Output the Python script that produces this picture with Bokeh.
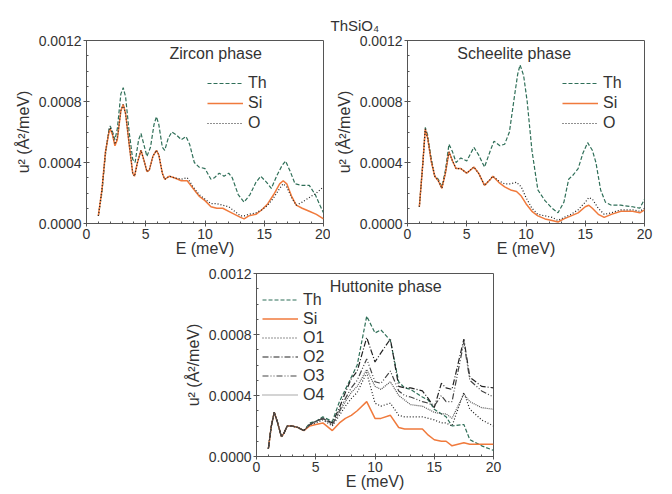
from bokeh.plotting import figure
from bokeh.layouts import column, row
from bokeh.models import (Range1d, FixedTicker, NumeralTickFormatter, Legend, LegendItem, Label, Title)
from bokeh.embed import file_html
from bokeh.resources import INLINE

# ---------------- data ----------------
title_text = "ThSiO\u2084"
x_label = "E (meV)"
y_label = "u\u00b2 (\u00c5\u00b2/meV)"
x_ticks = [0, 5, 10, 15, 20]
y_ticks = [0.0, 0.0004, 0.0008, 0.0012]

# Zircon phase
zircon_Th_E = [1, 1.3, 1.6, 1.9, 2.0, 2.2, 2.4, 2.6, 2.9, 3.1, 3.3, 3.6, 3.9, 4.1, 4.4, 4.6, 4.8, 5.1, 5.4, 5.7,
               5.9, 6.1, 6.4, 6.6, 6.9, 7.2, 7.6, 8.0, 8.4, 8.7, 9.1, 9.5, 10, 10.5, 10.8, 11.2, 11.6, 12, 12.3,
               12.8, 13.3, 13.8, 14.3, 14.7, 15.2, 15.6, 16.1, 16.5, 16.8, 17.2, 17.6, 18.2, 18.8, 19.3, 19.7, 20]
zircon_Th = [0.00005, 0.0002, 0.00045, 0.00062, 0.00064, 0.0006, 0.00055, 0.00062, 0.00085, 0.00089, 0.00083,
             0.0006, 0.00042, 0.0004, 0.00055, 0.00059, 0.00053, 0.00044, 0.0005, 0.00065, 0.0007, 0.00065,
             0.0005, 0.00048, 0.00056, 0.0006, 0.00058, 0.00055, 0.00057, 0.00052, 0.0004, 0.00037, 0.00036,
             0.00029, 0.0003, 0.00033, 0.00031, 0.00033, 0.0003, 0.00019, 0.00014, 0.00019, 0.00027, 0.00031,
             0.00027, 0.00023, 0.00032, 0.00038, 0.00041, 0.00034, 0.00026, 0.00025, 0.00025, 0.00019, 0.00012,
             0.00007]
zircon_E = [1, 1.3, 1.6, 1.9, 2.0, 2.2, 2.4, 2.6, 2.9, 3.1, 3.3, 3.6, 3.9, 4.05, 4.3, 4.6, 4.9, 5.1, 5.3, 5.6,
            5.9, 6.1, 6.4, 6.6, 7, 7.4, 8, 8.5, 9, 9.5, 10, 10.5, 11, 11.5, 12, 12.5, 13, 13.3, 13.7, 14.3,
            14.8, 15.3, 15.8, 16.3, 16.6, 16.9, 17.3, 17.7, 18.2, 18.8, 19.4, 20]
zircon_Si = [0.00005, 0.00022, 0.00047, 0.0006, 0.00062, 0.00058, 0.00051, 0.00055, 0.00074, 0.00078, 0.00072,
             0.00052, 0.00033, 0.00031, 0.0004, 0.00048, 0.0004, 0.00034, 0.00035, 0.00044, 0.00048, 0.00045,
             0.00033, 0.00029, 0.00031, 0.0003, 0.00028, 0.00028, 0.00023, 0.00018, 0.00015, 0.00011, 0.0001,
             0.0001, 0.00008, 0.00006, 0.00004, 0.00003, 0.00005, 0.00006, 0.00009, 0.00013, 0.00019, 0.00026,
             0.00028, 0.00026, 0.00018, 0.00012, 0.0001, 0.00008, 0.00006, 0.00003]
zircon_O = [0.00005, 0.00022, 0.00047, 0.00061, 0.00063, 0.00059, 0.00052, 0.00056, 0.00074, 0.00078, 0.00072,
            0.00052, 0.00033, 0.00031, 0.0004, 0.00048, 0.0004, 0.00034, 0.00035, 0.00044, 0.00048, 0.00045,
            0.00033, 0.00029, 0.00031, 0.0003, 0.00029, 0.0003, 0.00024, 0.00019, 0.00016, 0.00013, 0.00013,
            0.00012, 0.00011, 0.00008, 0.00005, 0.00005, 0.00006, 0.00007, 0.00009, 0.00012, 0.00017, 0.00023,
            0.00026, 0.00024, 0.00017, 0.00012, 0.00014, 0.00017, 0.0002, 0.00024]

# Scheelite phase
scheel_Th_E = [1, 1.3, 1.5, 1.7, 2, 2.3, 2.6, 2.9, 3.2, 3.5, 3.8, 4.1, 4.5, 5, 5.6, 6, 6.5, 7, 7.3, 7.8, 8.2,
               8.6, 9, 9.3, 9.5, 9.8, 10.1, 10.5, 11, 11.6, 12.2, 12.7, 13.2, 13.6, 14, 14.4, 14.8, 15.2, 15.6,
               15.9, 16.3, 16.7, 17.2, 18, 19, 19.6, 20]
scheel_Th = [0.00011, 0.0004, 0.00063, 0.00058, 0.00043, 0.00031, 0.00029, 0.00024, 0.00035, 0.00052, 0.00047,
             0.0004, 0.00043, 0.00041, 0.0005, 0.00045, 0.00037, 0.00048, 0.00054, 0.00051, 0.00052, 0.0006,
             0.00082, 0.00098, 0.00104, 0.00097, 0.0008, 0.00048, 0.00022, 0.00015, 0.0001, 0.00007, 0.00014,
             0.00029, 0.00032, 0.00036, 0.00046, 0.00053, 0.00048, 0.0004, 0.00022, 0.00014, 0.00012, 0.00012,
             0.00011, 0.0001, 0.00016]
scheel_E = [1, 1.3, 1.5, 1.7, 2, 2.3, 2.6, 2.9, 3.2, 3.5, 3.8, 4.1, 4.5, 5, 5.6, 6, 6.5, 7, 7.2, 7.7, 8.2, 8.7,
            9.2, 9.6, 10, 10.5, 11, 11.6, 12.2, 12.7, 13.2, 13.8, 14.4, 15, 15.3, 15.6, 16.1, 16.6, 17.2, 18,
            19, 19.6, 20]
scheel_Si = [0.00011, 0.0004, 0.00062, 0.00056, 0.00041, 0.00031, 0.00028, 0.00023, 0.00033, 0.00047, 0.00041,
             0.00036, 0.00036, 0.00033, 0.00037, 0.00033, 0.00025, 0.00029, 0.00031, 0.00027, 0.00024, 0.00022,
             0.00021, 0.00018, 0.00013, 0.00008, 0.00005, 0.00003, 0.00002, 0.00001, 0.00003, 0.00005, 0.00007,
             0.00011, 0.00012, 0.0001, 0.00006, 0.00004, 0.00006, 0.00008, 0.00008, 0.00007, 0.00009]
scheel_O = [0.00011, 0.0004, 0.00062, 0.00056, 0.00041, 0.00031, 0.00028, 0.00023, 0.00033, 0.00047, 0.00041,
            0.00036, 0.00036, 0.00033, 0.00037, 0.00033, 0.00025, 0.00029, 0.00031, 0.00028, 0.00026, 0.00026,
            0.00027, 0.00024, 0.00017, 0.0001, 0.00006, 0.00005, 0.00004, 0.00002, 0.00004, 0.00006, 0.00009,
            0.00014, 0.00017, 0.00016, 0.0001, 0.00006, 0.00007, 0.00009, 0.00009, 0.00008, 0.0001]

# Huttonite phase
hutt_E = [1, 1.25, 1.5, 1.75, 2.1, 2.3, 2.6, 3, 3.5, 4, 4.5, 5, 5.6, 6.4, 7, 7.5, 8, 8.5, 9.3, 10, 10.5, 11.3,
          12, 12.5, 13, 14, 14.5, 15, 15.6, 16, 16.5, 17.5, 18, 19, 20]
hutt_Th = [0.00005, 0.0002, 0.00029, 0.00023, 0.00013, 0.00015, 0.0002, 0.0002, 0.00019, 0.00017, 0.00022,
           0.00023, 0.00026, 0.00023, 0.00036, 0.00044, 0.00052, 0.0006, 0.00092, 0.00081, 0.00083, 0.00076,
           0.00049, 0.00045, 0.00044, 0.00039, 0.00037, 0.00031, 0.00028, 0.00026, 0.0002, 0.00021, 0.00011,
           0.00007, 0.00004]
hutt_Si = [0.00005, 0.0002, 0.00029, 0.00023, 0.00013, 0.00015, 0.0002, 0.0002, 0.00019, 0.00017, 0.0002,
           0.00021, 0.00022, 0.00017, 0.00022, 0.00025, 0.00027, 0.0003, 0.00036, 0.00025, 0.00025, 0.00027,
           0.00019, 0.00018, 0.00018, 0.00018, 0.00014, 0.00011, 0.0001, 0.0001, 0.00007, 0.00009, 0.00008,
           0.00008, 0.00008]
hutt_O1 = [0.00005, 0.0002, 0.00029, 0.00023, 0.00013, 0.00015, 0.0002, 0.0002, 0.00019, 0.00017, 0.00021,
           0.00022, 0.00024, 0.0002, 0.00027, 0.00033, 0.00038, 0.00042, 0.00055, 0.00035, 0.00033, 0.00035,
           0.00027, 0.00026, 0.00026, 0.00026, 0.00025, 0.00024, 0.00022, 0.00022, 0.0002, 0.00042, 0.00031,
           0.00024, 0.0002]
hutt_O2 = [0.00005, 0.0002, 0.00029, 0.00023, 0.00013, 0.00015, 0.0002, 0.0002, 0.00019, 0.00017, 0.00021,
           0.00023, 0.00025, 0.00022, 0.00032, 0.00042, 0.00051, 0.00056, 0.00078, 0.00062, 0.00068, 0.00077,
           0.00046, 0.00045, 0.00045, 0.00043, 0.00038, 0.00032, 0.00048, 0.00045, 0.00044, 0.00077, 0.00052,
           0.00046, 0.00045]
hutt_O3 = [0.00005, 0.0002, 0.00029, 0.00023, 0.00013, 0.00015, 0.0002, 0.0002, 0.00019, 0.00017, 0.00021,
           0.00023, 0.00025, 0.00021, 0.0003, 0.00038, 0.00045, 0.0005, 0.00064, 0.00049, 0.00048, 0.00056,
           0.00043, 0.0004, 0.00039, 0.00036, 0.00035, 0.00033, 0.0004, 0.00036, 0.00036, 0.00075, 0.0005,
           0.00043, 0.00039]
hutt_O4 = [0.00005, 0.0002, 0.00029, 0.00023, 0.00013, 0.00015, 0.0002, 0.0002, 0.00019, 0.00017, 0.00021,
           0.00023, 0.00025, 0.00021, 0.00029, 0.00036, 0.00042, 0.00046, 0.00057, 0.00046, 0.00044, 0.00049,
           0.0004, 0.00037, 0.00034, 0.00033, 0.00031, 0.00029, 0.00028, 0.00028, 0.00025, 0.00041, 0.00036,
           0.00032, 0.00031]

# ---------------- styles ----------------
FONT = "Liberation Sans"
TH_C = "#2f6f58"
SI_C = "#f07a3c"
O_C = "#222222"
TXT = "#333333"
AX = "#555555"


def make_fig(left, right, top, bottom):
    p = figure(frame_width=237, frame_height=183, min_border_left=left, min_border_right=right,
               min_border_top=top, min_border_bottom=bottom,
               x_range=Range1d(0, 20), y_range=Range1d(0, 0.0012),
               output_backend="svg", toolbar_location=None)
    p.xgrid.visible = False
    p.ygrid.visible = False
    p.outline_line_color = AX
    p.outline_line_width = 1
    p.background_fill_color = "white"
    p.border_fill_color = "white"
    p.xaxis.ticker = FixedTicker(ticks=x_ticks, minor_ticks=list(range(0, 21)))
    p.yaxis.ticker = FixedTicker(ticks=y_ticks, minor_ticks=[i * 0.0001 for i in range(13)])
    p.yaxis.formatter = NumeralTickFormatter(format="0.0000")
    for ax in (p.xaxis, p.yaxis):
        ax.axis_line_color = AX
        ax.major_tick_line_color = AX
        ax.minor_tick_line_color = AX
        ax.major_tick_in = 3
        ax.major_tick_out = 3
        ax.minor_tick_in = 2
        ax.minor_tick_out = 0
        ax.major_label_text_font = FONT
        ax.major_label_text_font_size = "14px"
        ax.major_label_text_color = TXT
        ax.axis_label_text_font = FONT
        ax.axis_label_text_font_size = "16px"
        ax.axis_label_text_font_style = "normal"
        ax.axis_label_text_color = TXT
        ax.major_label_standoff = 2
        ax.axis_label_standoff = -2
    p.yaxis.axis_label_standoff = 4
    p.xaxis.axis_label = x_label
    p.yaxis.axis_label = y_label
    return p


def add_legend(p, items, loc, spacing_h):
    leg = Legend(items=[LegendItem(label=l, renderers=[r]) for l, r in items], location=loc)
    leg.label_text_font = FONT
    leg.label_text_font_size = "16px"
    leg.label_text_color = TXT
    leg.glyph_width = 36
    leg.glyph_height = spacing_h
    leg.label_height = spacing_h
    leg.spacing = 0
    leg.padding = 0
    leg.margin = 0
    leg.label_standoff = 5
    leg.border_line_alpha = 0
    leg.background_fill_alpha = 0
    p.add_layout(leg)


def phase_label(p, text, x):
    p.add_layout(Label(x=x, y=0.001115, text=text, text_align="center", text_baseline="middle",
                       text_font=FONT, text_font_size="16px", text_color=TXT))


# Zircon
p1 = make_fig(86, 7, 40, 34)
r_th = p1.line(zircon_Th_E, zircon_Th, line_color=TH_C, line_dash="4 2", line_width=1.2)
r_si = p1.line(zircon_E, zircon_Si, line_color=SI_C, line_width=1.5)
r_o = p1.line(zircon_E, zircon_O, line_color=O_C, line_dash="1 2", line_width=1.2)
add_legend(p1, [("Th", r_th), ("Si", r_si), ("O", r_o)], (121, 90), 20)
phase_label(p1, "Zircon phase", 10.9)

# Scheelite
p2 = make_fig(77, 28, 40, 34)
r_th = p2.line(scheel_Th_E, scheel_Th, line_color=TH_C, line_dash="4 2", line_width=1.2)
r_si = p2.line(scheel_E, scheel_Si, line_color=SI_C, line_width=1.5)
r_o = p2.line(scheel_E, scheel_O, line_color=O_C, line_dash="1 2", line_width=1.2)
add_legend(p2, [("Th", r_th), ("Si", r_si), ("O", r_o)], (155, 90), 20)
phase_label(p2, "Scheelite phase", 9.0)
p2.title = Title(text=title_text, align="left", offset=-77, text_font=FONT, text_font_size="15px",
                 text_font_style="normal", text_color=TXT, vertical_align="top")

# Huttonite
p3 = make_fig(256, 178, 14, 37)
r_th = p3.line(hutt_E, hutt_Th, line_color=TH_C, line_dash="4 2", line_width=1.2)
r_si = p3.line(hutt_E, hutt_Si, line_color=SI_C, line_width=1.5)
r_o1 = p3.line(hutt_E, hutt_O1, line_color=O_C, line_dash="1 2", line_width=1.2)
r_o2 = p3.line(hutt_E, hutt_O2, line_color=O_C, line_dash="6 2 1 2", line_width=1.2)
r_o3 = p3.line(hutt_E, hutt_O3, line_color="#444444", line_dash="6 2 1 2 1 2", line_width=1.2)
r_o4 = p3.line(hutt_E, hutt_O4, line_color="#555555", line_dash="1 1", line_width=1.2)
add_legend(p3, [("Th", r_th), ("Si", r_si), ("O1", r_o1), ("O2", r_o2), ("O3", r_o3), ("O4", r_o4)], (6, 52), 19)
phase_label(p3, "Huttonite phase", 10.9)

layout = column(row(p1, p2, spacing=0), p3, spacing=0)
open("out.html", "w").write(file_html(layout, INLINE))
